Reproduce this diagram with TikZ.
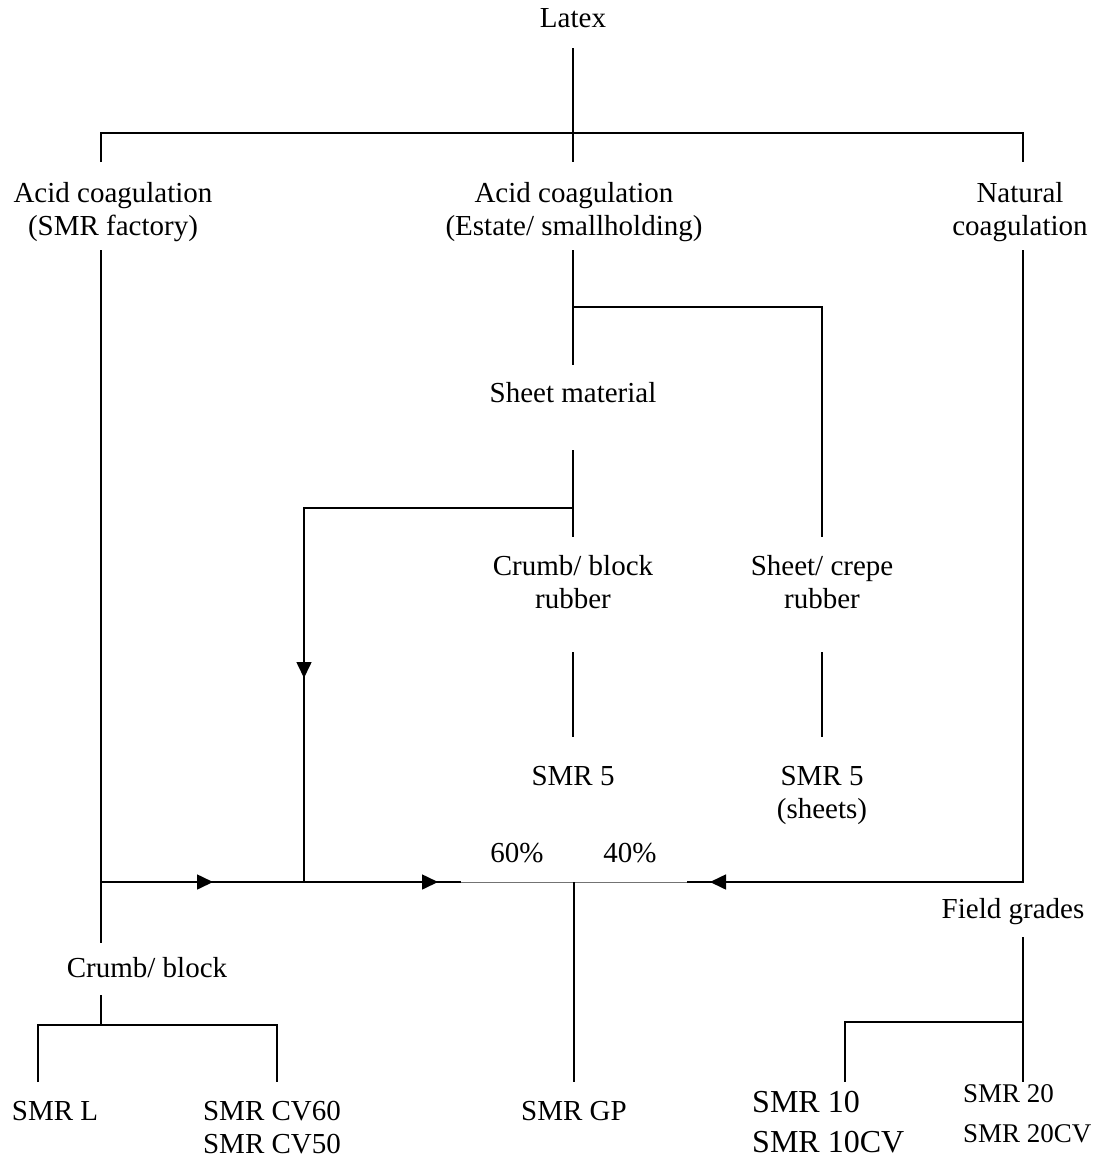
\documentclass[tikz,border=0pt]{standalone}
\usepackage{fontspec}
\setmainfont{Liberation Serif}
\usetikzlibrary{arrows.meta}
\newcommand{\mlc}[1]{\begin{tabular}[t]{@{}c@{}}#1\end{tabular}}
\newcommand{\mll}[1]{\begin{tabular}[t]{@{}l@{}}#1\end{tabular}}
\begin{document}
\begin{tikzpicture}[x=1pt,y=-1pt,
  lbl/.style={anchor=base,inner sep=0pt,font=\fontsize{29}{33}\selectfont},
  lblL/.style={anchor=base west,inner sep=0pt},
  ln/.style={line width=1.6pt},
  thin/.style={line width=0.9pt,draw=black!55},
  tip/.style={ln,-{Triangle[length=16pt,width=15pt]}}]
\useasboundingbox (0,0) rectangle (1101,1162);

% ---- nodes ----
\node[lbl] (latex) at (573,27) {Latex};
\node[lbl] (acidF) at (113,202) {\mlc{Acid coagulation\\(SMR factory)}};
\node[lbl] (acidE) at (574,202) {\mlc{Acid coagulation\\(Estate/ smallholding)}};
\node[lbl] (natural) at (1020,202) {\mlc{Natural\\coagulation}};
\node[lbl] (sheetmat) at (573,402) {Sheet material};
\node[lbl] (crumbR) at (573,575) {\mlc{Crumb/ block\\rubber}};
\node[lbl] (sheetR) at (822,575) {\mlc{Sheet/ crepe\\rubber}};
\node[lbl] (smr5) at (573,785) {SMR 5};
\node[lbl] (smr5s) at (822,785) {\mlc{SMR 5\\(sheets)}};
\node[lbl] (p60) at (517,862) {60\%};
\node[lbl] (p40) at (630,862) {40\%};
\node[lbl] (field) at (1013,918) {Field grades};
\node[lbl] (crumb) at (147,977) {Crumb/ block};
\node[lbl] (smrL) at (55,1120) {SMR L};
\node[lbl] (smrCV) at (272,1120) {\mll{SMR CV60\\SMR CV50}};
\node[lbl] (smrGP) at (574,1120) {SMR GP};
\node[lblL,font=\fontsize{32}{40}\selectfont] (smr10) at (752,1112) {\mll{SMR 10\\SMR 10CV}};
\node[lblL,font=\fontsize{27}{40}\selectfont] (smr20) at (963,1102) {\mll{SMR 20\\SMR 20CV}};

% ---- coordinates ----
\coordinate (lxA) at (573,48);
\coordinate (lxB) at (573,162);
\coordinate (hL) at (101,133);
\coordinate (hR) at (1023,133);
\coordinate (aFtop) at (101,162);
\coordinate (natTop) at (1023,162);
\coordinate (aFbot) at (101,250);
\coordinate (mix) at (101,882);
\coordinate (aFend) at (101,943);
\coordinate (crA) at (101,995);
\coordinate (crJ) at (101,1025);
\coordinate (crL) at (38,1025);
\coordinate (crR) at (277,1025);
\coordinate (crLb) at (38,1082);
\coordinate (crRb) at (277,1082);
\coordinate (aEbot) at (573,250);
\coordinate (smTop) at (573,365);
\coordinate (sjA) at (573,307);
\coordinate (sjB) at (822,307);
\coordinate (shTop) at (822,537);
\coordinate (smBot) at (573,450);
\coordinate (cbTop) at (573,537);
\coordinate (bjA) at (573,508);
\coordinate (bjB) at (304,508);
\coordinate (bjArrow) at (304,678);
\coordinate (bjC) at (304,882);
\coordinate (cbBot) at (573,652);
\coordinate (s5Top) at (573,737);
\coordinate (shBot) at (822,652);
\coordinate (s5sTop) at (822,737);
\coordinate (arr1) at (213,882);
\coordinate (arr2) at (438,882);
\coordinate (gL) at (461,882);
\coordinate (gR) at (687,882);
\coordinate (gpTop) at (574,882);
\coordinate (gpBot) at (574,1082);
\coordinate (natBot) at (1023,250);
\coordinate (natC) at (1023,882);
\coordinate (arr3) at (710,882);
\coordinate (fgTop) at (1023,937);
\coordinate (fgJ) at (1023,1022);
\coordinate (fgL) at (845,1022);
\coordinate (fgLb) at (845,1082);
\coordinate (fgRb) at (1023,1082);

% ---- connectors ----
\draw[ln] (lxA) -- (lxB);
\draw[ln] (aFtop) -- (hL) -- (hR) -- (natTop);
\draw[ln] (aFbot) -- (aFend);
\draw[ln] (crA) -- (crJ);
\draw[ln] (crLb) -- (crL) -- (crR) -- (crRb);
\draw[ln] (aEbot) -- (smTop);
\draw[ln] (sjA) -- (sjB) -- (shTop);
\draw[ln] (smBot) -- (cbTop);
\draw[ln] (bjA) -- (bjB) -- (bjC);
\draw[tip] (bjB) -- (bjArrow);
\draw[ln] (cbBot) -- (s5Top);
\draw[ln] (shBot) -- (s5sTop);
\draw[ln] (mix) -- (gL);
\draw[tip] (mix) -- (arr1);
\draw[tip] (mix) -- (arr2);
\draw[thin] (gL) -- (gR);
\draw[ln] (gpTop) -- (gpBot);
\draw[ln] (natBot) -- (natC) -- (gR);
\draw[tip] (natC) -- (arr3);
\draw[ln] (fgTop) -- (fgRb);
\draw[ln] (fgJ) -- (fgL) -- (fgLb);
\end{tikzpicture}
\end{document}
